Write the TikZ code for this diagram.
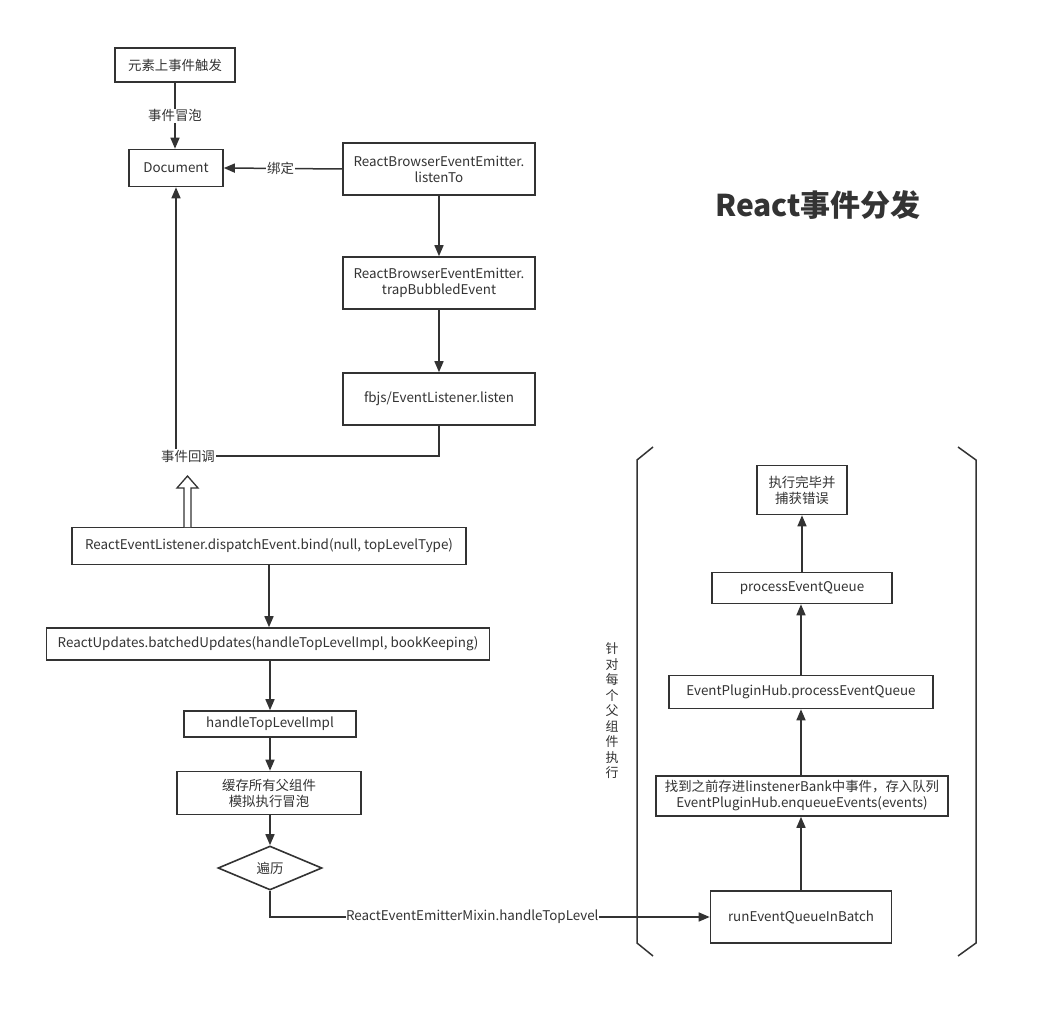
\documentclass[tikz,border=0pt]{standalone}
\usepackage{fontspec}
\setmainfont{Noto Sans CJK SC}
\usetikzlibrary{arrows.meta,shapes.geometric,calc}
\definecolor{linec}{HTML}{333333}
\definecolor{textc}{HTML}{333333}
\begin{document}
\begin{tikzpicture}[x=1pt,y=-1pt,
  box/.style={draw=linec, line width=1.6pt, fill=white, text=textc, font=\fontsize{13.4}{16}\selectfont, align=center, inner sep=0pt},
  lbl/.style={text=textc, font=\fontsize{13.4}{16}\selectfont, fill=white, inner sep=1pt},
  arr/.style={draw=linec, line width=1.5pt, -{Triangle[length=11pt,width=9pt]}},
  ln/.style={draw=linec, line width=1.5pt},
  brk/.style={draw=linec, line width=1.5pt}
]
\useasboundingbox (0,0) rectangle (1037,1019);
\fill[white] (0,0) rectangle (1037,1019);

\node[box, minimum width=120pt, minimum height=34pt] (n1) at (175,65) {元素上事件触发};
\node[box, minimum width=94pt, minimum height=37pt] (doc) at (176,168) {Document};
\node[box, minimum width=192pt, minimum height=52pt] (listen) at (439,169) {ReactBrowserEventEmitter.\\listenTo};
\node[box, minimum width=192pt, minimum height=52pt] (trap) at (439,283) {ReactBrowserEventEmitter.\\trapBubbledEvent};
\node[box, minimum width=192pt, minimum height=52pt] (fbjs) at (439,399) {fbjs/EventListener.listen};
\node[lbl] (cb) at (188,456) {事件回调};
\node[box, minimum width=394pt, minimum height=37pt] (disp) at (269,546) {ReactEventListener.dispatchEvent.bind(null, topLevelType)};
\node[box, minimum width=443pt, minimum height=32pt] (batch) at (268,644) {ReactUpdates.batchedUpdates(handleTopLevelImpl, bookKeeping)};
\node[box, minimum width=172pt, minimum height=26pt] (htl) at (270,724) {handleTopLevelImpl};
\node[box, minimum width=184pt, minimum height=43pt] (cache) at (269,793) {缓存所有父组件\\模拟执行冒泡};
\node[box, shape=diamond, minimum width=104pt, minimum height=44pt] (diam) at (270,868) {遍历};

\node[box, minimum width=181pt, minimum height=52pt] (run) at (801,917) {runEventQueueInBatch};
\node[box, minimum width=292pt, minimum height=40pt] (enq) at (802,796) {找到之前存进linstenerBank中事件，存入队列\\EventPluginHub.enqueueEvents(events)};
\node[box, minimum width=264pt, minimum height=33pt] (eph) at (801,692) {EventPluginHub.processEventQueue};
\node[box, minimum width=180pt, minimum height=31pt] (peq) at (802,588) {processEventQueue};
\node[box, minimum width=90pt, minimum height=49pt] (done) at (802,490) {执行完毕并\\捕获错误};

\node[text=textc, font=\fontsize{13}{15.5}\selectfont, align=center, inner sep=0pt] (vt) at (612,711) {针\\对\\每\\个\\父\\组\\件\\执\\行};
\node[text=textc, font=\bfseries\fontsize{30}{34}\selectfont, inner sep=0pt] (title) at (818,205) {React事件分发};

% connectors
\draw[arr] (n1.south) -- node[lbl] {事件冒泡} (n1.south |- doc.north);
\draw[arr] (listen.west) -- node[lbl, pos=0.52] {绑定} (doc.east);
\draw[arr] (listen.south) -- (trap.north);
\draw[arr] (trap.south) -- (fbjs.north);
\draw[ln] (fbjs.south) -- (fbjs.south |- cb.east) -- (cb.east);
\draw[arr] (doc.south |- cb.north) -- (doc.south);
\draw[linec, line width=1.3pt, fill=white] (184,527) -- (184,488) -- (177,488) -- (187.5,476) -- (198,488) -- (191,488) -- (191,527);
\draw[arr] (disp.south) -- (disp.south |- batch.north);
\draw[arr] (batch.south -| htl.north) -- (htl.north);
\draw[arr] (htl.south) -- (htl.south |- cache.north);
\draw[arr] (cache.south -| diam.north) -- (diam.north);
\draw[arr] (diam.south) |- node[lbl, pos=0.73, inner sep=0.5pt] {ReactEventEmitterMixin.handleTopLevel} (run.west);
\draw[arr] (run.north) -- (run.north |- enq.south);
\draw[arr] (enq.north -| eph.south) -- (eph.south);
\draw[arr] (eph.north) -- (eph.north |- peq.south);
\draw[arr] (peq.north) -- (peq.north |- done.south);

% brackets
\draw[brk] (653,447) -- (637,460) -- (637,943) -- (653,956);
\draw[brk] (958,447) -- (976,460) -- (976,943) -- (958,956);
\end{tikzpicture}
\end{document}
